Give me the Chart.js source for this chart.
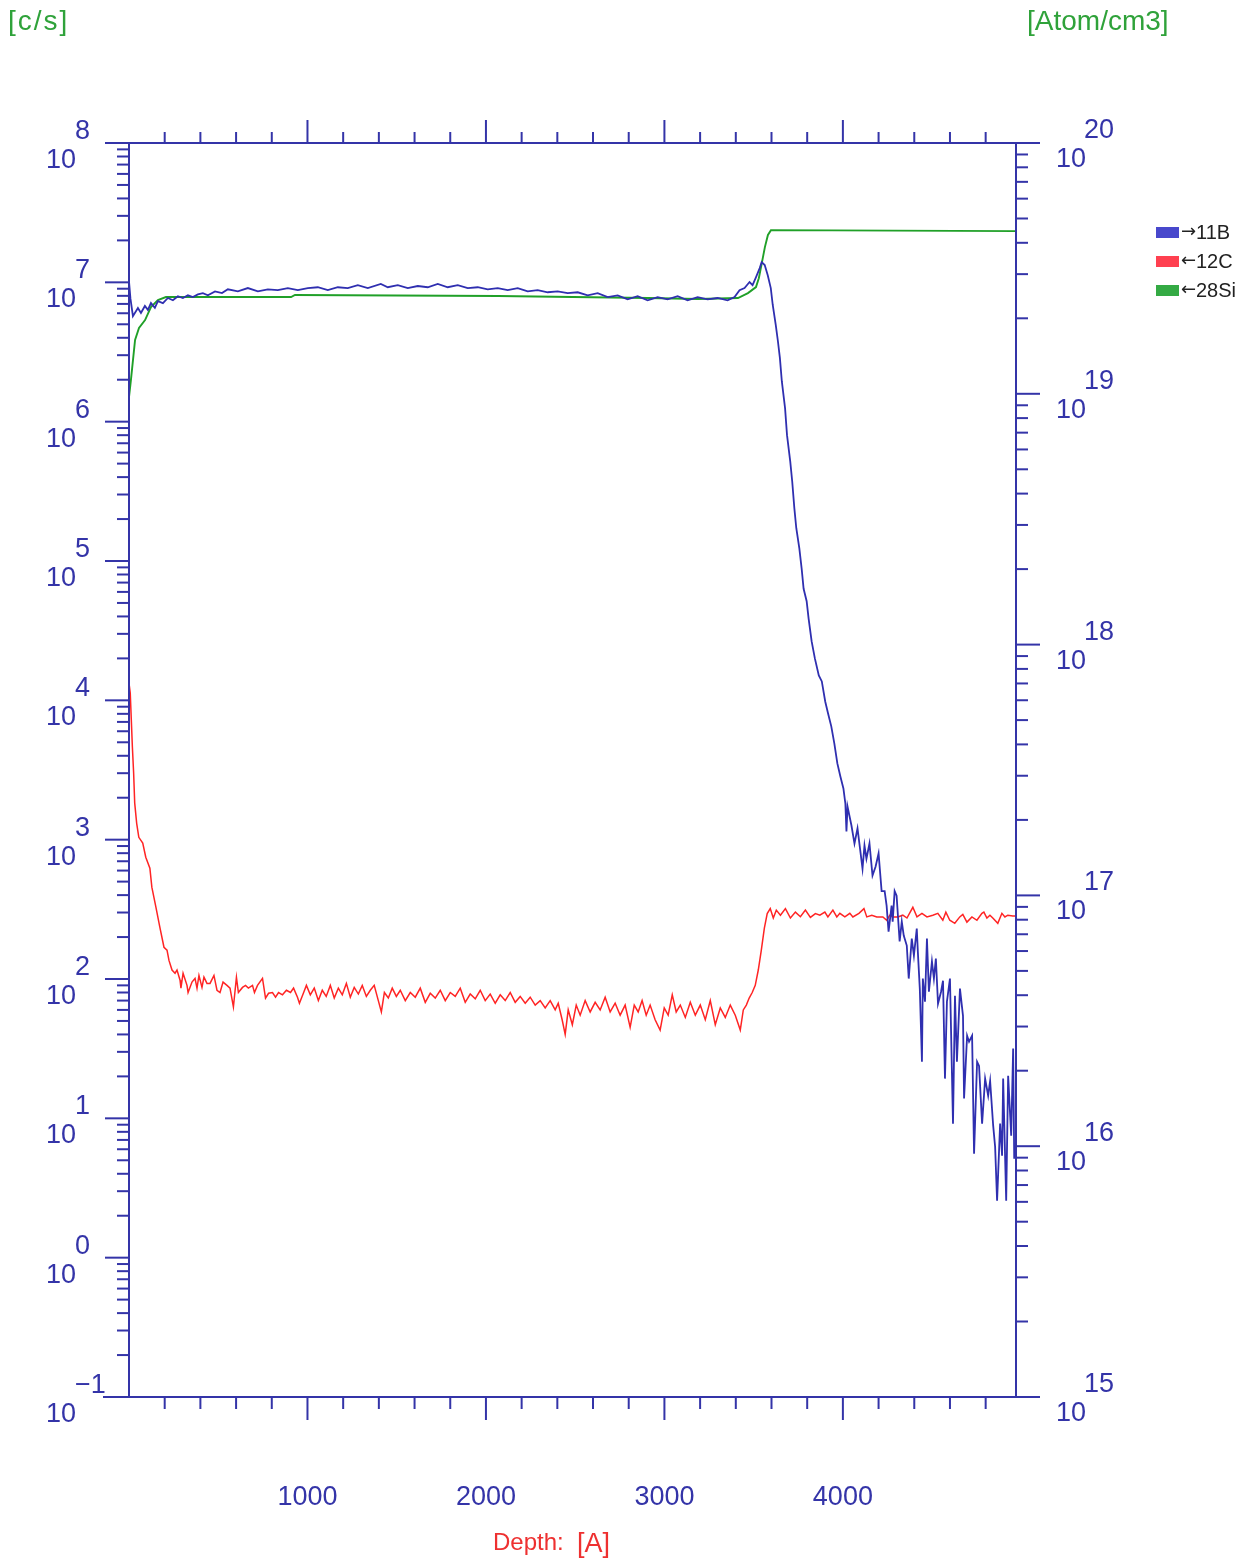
<!DOCTYPE html>
<html lang="en">
<head>
<meta charset="UTF-8">
<title>SIMS depth profile</title>
<script src="https://cdn.jsdelivr.net/npm/chart.js"></script>
<style>
  body { margin: 0; background: #fff; }
  #wrap { width: 1248px; height: 1559px; }
</style>
</head>
<body>
<div id="wrap"><canvas id="profile" width="1248" height="1559"></canvas></div>
<script>
// ---- axes ----
const depthMax = 4970;                       // [A]
const depthLabels = [1000, 2000, 3000, 4000];
const countDecades = [-1, 0, 1, 2, 3, 4, 5, 6, 7, 8];   // [c/s]
const concDecades = [15, 16, 17, 18, 19, 20];            // [Atom/cm3]

// ---- 11B, concentration (right axis) ----
const bDepth = [0, 8, 22, 50, 67, 89, 106, 123, 145, 162, 190, 218, 246, 274, 302, 330, 358, 386, 414, 442,
  482, 521, 554, 610, 666, 722, 778, 834, 890, 946, 1002, 1058, 1114, 1170, 1226, 1282, 1338, 1411, 1450, 1506,
  1562, 1618, 1674, 1730, 1786, 1842, 1898, 1954, 2010, 2066, 2122, 2178, 2234, 2290, 2346, 2402, 2458, 2514, 2570, 2626,
  2682, 2738, 2794, 2850, 2906, 2962, 3018, 3074, 3130, 3186, 3242, 3298, 3354, 3393, 3421, 3449, 3477, 3494, 3511, 3534,
  3545, 3562, 3579, 3596, 3607, 3624, 3636, 3647, 3658, 3676, 3687, 3705, 3716, 3728, 3739, 3756, 3769, 3780, 3797, 3808,
  3825, 3843, 3865, 3882, 3901, 3917, 3935, 3952, 3969, 3986, 4003, 4014, 4020, 4026, 4048, 4065, 4082, 4110, 4121, 4132,
  4149, 4166, 4183, 4200, 4217, 4234, 4245, 4256, 4273, 4279, 4290, 4301, 4318, 4330, 4341, 4358, 4369, 4386, 4398, 4414,
  4420, 4431, 4443, 4448, 4460, 4471, 4482, 4499, 4510, 4521, 4533, 4550, 4561, 4572, 4583, 4600, 4617, 4628, 4639, 4656,
  4673, 4679, 4696, 4707, 4724, 4735, 4752, 4763, 4780, 4797, 4814, 4825, 4842, 4853, 4864, 4881, 4892, 4898, 4915, 4926,
  4943, 4954, 4960];
const bConc = [2.81e19, 2.4e19, 2.04e19, 2.20e19, 2.10e19, 2.24e19, 2.16e19, 2.30e19, 2.20e19, 2.34e19, 2.30e19, 2.41e19, 2.36e19, 2.45e19, 2.41e19, 2.47e19, 2.43e19, 2.49e19, 2.52e19, 2.47e19,
  2.56e19, 2.52e19, 2.61e19, 2.56e19, 2.64e19, 2.56e19, 2.61e19, 2.59e19, 2.64e19, 2.59e19, 2.64e19, 2.66e19, 2.59e19, 2.66e19, 2.64e19, 2.71e19, 2.64e19, 2.74e19, 2.66e19, 2.71e19,
  2.64e19, 2.69e19, 2.66e19, 2.74e19, 2.66e19, 2.71e19, 2.64e19, 2.66e19, 2.61e19, 2.64e19, 2.59e19, 2.64e19, 2.56e19, 2.59e19, 2.54e19, 2.56e19, 2.52e19, 2.54e19, 2.47e19, 2.52e19,
  2.43e19, 2.47e19, 2.38e19, 2.45e19, 2.36e19, 2.43e19, 2.38e19, 2.45e19, 2.36e19, 2.43e19, 2.38e19, 2.41e19, 2.36e19, 2.43e19, 2.59e19, 2.64e19, 2.79e19, 2.71e19, 2.89e19, 3.17e19,
  3.35e19, 3.26e19, 2.97e19, 2.64e19, 2.26e19, 1.88e19, 1.62e19, 1.39e19, 1.12e19, 8.77e18, 6.84e18, 5.38e18, 4.48e18, 3.50e18, 2.91e18, 2.42e18, 2.01e18, 1.67e18, 1.49e18, 1.27e18,
  1.03e18, 8.81e17, 7.53e17, 7.13e17, 5.93e17, 5.31e17, 4.72e17, 4.04e17, 3.36e17, 2.98e17, 2.67e17, 2.32e17, 1.80e17, 2.26e17, 1.90e17, 1.61e17, 1.85e17, 1.28e17, 1.58e17, 1.40e17,
  1.61e17, 1.20e17, 1.30e17, 1.47e17, 1.04e17, 1.04e17, 9.10e16, 7.17e16, 9.10e16, 7.86e16, 1.04e17, 9.98e16, 6.55e16, 7.86e16, 6.92e16, 6.31e16, 4.66e16, 6.73e16, 5.75e16, 7.38e16,
  5.97e16, 4.25e16, 2.17e16, 4.66e16, 3.77e16, 6.73e16, 4.13e16, 5.45e16, 4.66e16, 5.60e16, 3.70e16, 4.13e16, 4.57e16, 1.86e16, 3.77e16, 4.66e16, 1.23e16, 3.98e16, 2.17e16, 4.25e16,
  3.31e16, 1.55e16, 2.76e16, 2.61e16, 2.76e16, 9.33e15, 2.17e16, 2.09e16, 1.23e16, 1.86e16, 1.59e16, 1.82e16, 1.21e16, 9.95e15, 6.06e15, 1.23e16, 9.16e15, 1.86e16, 6.06e15, 1.91e16,
  1.10e16, 2.45e16, 8.91e15];

// ---- 12C, counts (left axis) ----
const cDepth = [0, 7, 13, 19, 26, 32, 43, 55, 77, 94, 117, 128, 151, 173, 196, 213, 224, 241, 258, 269,
  286, 291, 303, 325, 331, 353, 370, 381, 392, 409, 420, 437, 454, 476, 493, 510, 527, 549, 566, 585,
  602, 613, 636, 653, 669, 692, 703, 720, 748, 765, 782, 804, 821, 838, 860, 882, 905, 922, 944, 955,
  977, 994, 1016, 1038, 1061, 1083, 1105, 1128, 1150, 1173, 1195, 1218, 1240, 1262, 1285, 1307, 1330, 1352, 1374, 1397,
  1414, 1431, 1453, 1475, 1498, 1520, 1548, 1576, 1604, 1632, 1660, 1688, 1716, 1744, 1772, 1800, 1828, 1856, 1884, 1912,
  1940, 1968, 1996, 2024, 2052, 2080, 2108, 2136, 2164, 2192, 2220, 2248, 2276, 2304, 2332, 2360, 2388, 2405, 2427, 2444,
  2461, 2484, 2506, 2528, 2556, 2584, 2612, 2640, 2668, 2696, 2724, 2752, 2780, 2808, 2831, 2853, 2875, 2898, 2920, 2948,
  2976, 2999, 3021, 3044, 3066, 3089, 3117, 3145, 3173, 3201, 3229, 3257, 3285, 3313, 3341, 3369, 3397, 3425, 3442, 3459,
  3475, 3492, 3509, 3526, 3543, 3560, 3576, 3593, 3610, 3627, 3650, 3678, 3706, 3734, 3762, 3790, 3818, 3846, 3871, 3899,
  3916, 3944, 3966, 3983, 4011, 4039, 4056, 4090, 4118, 4134, 4162, 4190, 4224, 4246, 4263, 4280, 4308, 4336, 4359, 4392,
  4415, 4443, 4471, 4504, 4532, 4560, 4577, 4599, 4627, 4655, 4672, 4695, 4723, 4751, 4779, 4790, 4807, 4824, 4840, 4868,
  4891, 4908, 4924, 4952, 4970];
const cCounts = [13300, 11300, 7210, 4610, 3000, 1830, 1310, 1040, 944, 748, 624, 456, 327, 235, 169, 161, 136, 116, 110, 116,
  98, 86, 110, 90, 80, 95, 101, 86, 106, 87, 103, 93, 93, 106, 83, 80, 95, 90, 86, 63,
  103, 80, 87, 90, 86, 90, 80, 90, 101, 73, 79, 80, 74, 80, 77, 83, 80, 86, 74, 67,
  79, 90, 77, 86, 70, 83, 75, 90, 73, 86, 77, 93, 74, 87, 78, 90, 75, 83, 90, 70,
  58, 80, 73, 86, 75, 83, 70, 80, 74, 86, 68, 79, 73, 83, 70, 80, 75, 86, 68, 78,
  72, 83, 70, 78, 67, 77, 70, 80, 68, 75, 67, 74, 65, 70, 62, 70, 60, 67, 51, 40,
  60, 47, 65, 55, 70, 58, 68, 60, 74, 58, 67, 55, 65, 45, 65, 58, 70, 55, 65, 51,
  43, 62, 55, 77, 58, 65, 53, 68, 55, 65, 51, 70, 47, 62, 53, 65, 55, 43, 60, 65,
  73, 80, 90, 116, 161, 232, 295, 320, 274, 312, 287, 320, 274, 302, 280, 312, 277, 295, 287, 302,
  279, 312, 279, 296, 279, 296, 279, 296, 320, 279, 287, 279, 279, 264, 287, 279, 279, 287, 274, 327,
  279, 296, 279, 287, 296, 264, 302, 264, 251, 279, 291, 256, 279, 264, 296, 302, 274, 287, 274, 251,
  296, 279, 287, 283, 283];

// ---- 28Si, counts (left axis) ----
const siDepth = [0, 11, 34, 56, 90, 123, 162, 207, 908, 930, 2067, 2908, 3188, 3412, 3468, 3513, 3529, 3546, 3563, 3580, 3597, 4970];
const siCounts = [1.5e6, 2.0e6, 3.86e6, 4.7e6, 5.36e6, 6.65e6, 7.46e6, 7.84e6, 7.84e6, 8.11e6, 7.98e6, 7.71e6, 7.59e6, 7.71e6, 8.37e6, 9.25e6, 1.07e7, 1.38e7, 1.79e7, 2.19e7, 2.37e7, 2.33e7];

const AXIS = '#3434a8';
const TICK_FONT = '27px "Liberation Sans", Arial, sans-serif';

function pairs(xs, ys) {
  return xs.map((x, i) => ({ x: x, y: ys[i] }));
}

function seg(ctx, x1, y1, x2, y2) {
  ctx.beginPath();
  ctx.moveTo(x1, y1);
  ctx.lineTo(x2, y2);
  ctx.stroke();
}

// log axis with long decade ticks and short 2..9 ticks, pointing outward
function logTicks(ctx, scale, decades, x, dir) {
  decades.forEach((e, i) => {
    const y = scale.getPixelForValue(Math.pow(10, e));
    seg(ctx, x, y, x + dir * 24, y);
    if (i === decades.length - 1) return;
    for (let k = 2; k <= 9; k++) {
      const ym = scale.getPixelForValue(k * Math.pow(10, e));
      seg(ctx, x, ym, x + dir * 12, ym);
    }
  });
}

const framePlugin = {
  id: 'frame',
  afterDraw(chart) {
    const { ctx, chartArea: a, scales } = chart;
    const xs = scales.x, yl = scales.yCounts, yr = scales.yConc;
    ctx.save();
    ctx.strokeStyle = AXIS;
    ctx.lineWidth = 2;
    ctx.lineCap = 'butt';

    seg(ctx, a.left, a.top, a.left, a.bottom);
    seg(ctx, a.right, a.top, a.right, a.bottom);
    seg(ctx, a.left - 21, a.top, a.right + 24, a.top);
    seg(ctx, a.left - 26, a.bottom, a.right + 21, a.bottom);

    for (let d = 200; d < depthMax; d += 200) {
      const px = xs.getPixelForValue(d);
      const major = d % 1000 === 0;
      seg(ctx, px, a.top, px, a.top - (major ? 23 : 11));
      seg(ctx, px, a.bottom, px, a.bottom + (major ? 23 : 12));
    }
    logTicks(ctx, yl, countDecades, a.left, -1);
    logTicks(ctx, yr, concDecades, a.right, 1);

    // tick labels: 10 with raised exponent
    ctx.fillStyle = AXIS;
    ctx.font = TICK_FONT;
    ctx.textBaseline = 'alphabetic';
    countDecades.forEach(e => {
      const y = yl.getPixelForValue(Math.pow(10, e));
      ctx.textAlign = 'right';
      ctx.fillText('10', 76, y + 25);
      ctx.textAlign = 'left';
      ctx.fillText(e < 0 ? '\u2212' + (-e) : String(e), 75, y - 4);
    });
    concDecades.forEach(e => {
      const y = yr.getPixelForValue(Math.pow(10, e));
      ctx.textAlign = 'left';
      ctx.fillText('10', 1056, y + 24);
      ctx.fillText(String(e), 1084, y - 5);
    });
    ctx.textAlign = 'center';
    depthLabels.forEach(d => {
      ctx.fillText(String(d), xs.getPixelForValue(d), 1505);
    });

    // units and axis title
    ctx.fillStyle = '#2fa23a';
    ctx.font = '28px "Liberation Sans", Arial, sans-serif';
    ctx.textAlign = 'left';
    ctx.letterSpacing = '2px';
    ctx.fillText('[c/s]', 8, 30);
    ctx.letterSpacing = '0px';
    ctx.fillText('[Atom/cm3]', 1027, 30);

    ctx.fillStyle = '#ee3030';
    ctx.font = '24px "Liberation Sans", Arial, sans-serif';
    ctx.fillText('Depth:', 493, 1550);
    ctx.font = '27px "Liberation Sans", Arial, sans-serif';
    ctx.fillText('[A]', 577, 1552);

    // legend: arrow shows which axis the trace belongs to
    chart.data.datasets.forEach((ds, i) => {
      const top = 227 + i * 29;
      ctx.fillStyle = ds.legendColor;
      ctx.fillRect(1156, top, 23, 11);
      ctx.fillStyle = '#222';
      ctx.font = '18px "DejaVu Sans", sans-serif';
      ctx.fillText(ds.yAxisID === 'yConc' ? '\u2192' : '\u2190', 1181, top + 10);
      ctx.font = '20px "Liberation Sans", Arial, sans-serif';
      ctx.fillText(ds.label, 1196, top + 12);
    });
    ctx.restore();
  }
};

new Chart(document.getElementById('profile'), {
  type: 'line',
  data: {
    datasets: [
      { label: '11B', data: pairs(bDepth, bConc), yAxisID: 'yConc',
        borderColor: '#2f2fb0', legendColor: '#4848cc', borderWidth: 1.8 },
      { label: '12C', data: pairs(cDepth, cCounts), yAxisID: 'yCounts',
        borderColor: '#ff2424', legendColor: '#ff4050', borderWidth: 1.5 },
      { label: '28Si', data: pairs(siDepth, siCounts), yAxisID: 'yCounts',
        borderColor: '#20a028', legendColor: '#34aa44', borderWidth: 1.9 }
    ]
  },
  options: {
    responsive: false,
    animation: false,
    events: [],
    layout: { padding: { left: 129, right: 232, top: 143, bottom: 162 } },
    elements: { point: { radius: 0 }, line: { tension: 0 } },
    plugins: { legend: { display: false }, tooltip: { enabled: false } },
    scales: {
      x: { type: 'linear', min: 0, max: depthMax, display: false },
      yCounts: { type: 'logarithmic', position: 'left', min: 0.1, max: 1e8, display: false },
      yConc: { type: 'logarithmic', position: 'right', min: 1e15, max: 1e20, display: false }
    }
  },
  plugins: [framePlugin]
});
</script>
</body>
</html>
